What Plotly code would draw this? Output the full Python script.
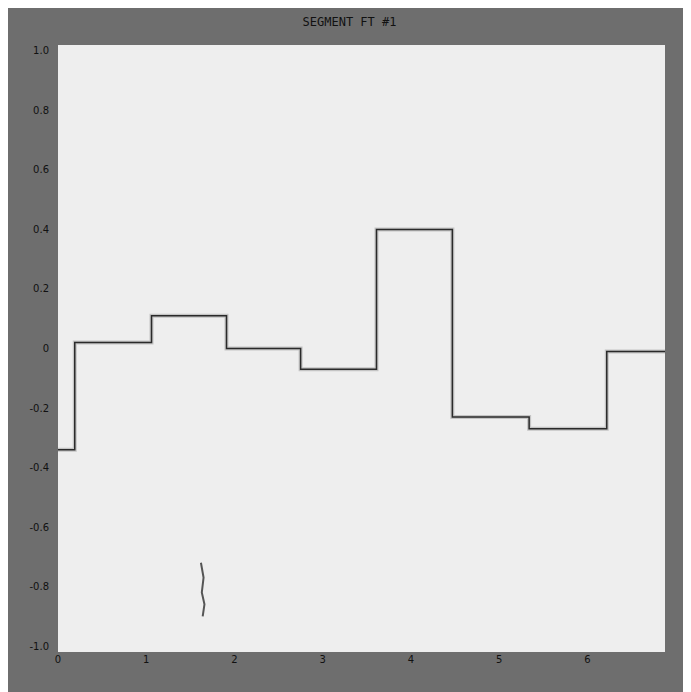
import plotly.graph_objects as go

# Step edges (x) and levels (y)
step_x = [0.0, 0.19, 1.06, 1.91, 2.75, 3.61, 4.47, 5.34, 6.22, 6.88]
step_y = [-0.34, 0.02, 0.11, 0.0, -0.07, 0.40, -0.23, -0.27, -0.01, -0.01]

# small stray mark in the lower left
mark_x = [1.62, 1.65, 1.63, 1.66, 1.64]
mark_y = [-0.72, -0.77, -0.82, -0.86, -0.90]

x_ticks = [0, 1, 2, 3, 4, 5, 6]
x_tick_labels = ["0", "1", "2", "3", "4", "5", "6"]
y_ticks = [-1.0, -0.8, -0.6, -0.4, -0.2, 0.0, 0.2, 0.4, 0.6, 0.8, 1.0]
y_tick_labels = ["-1.0", "-0.8", "-0.6", "-0.4", "-0.2", "0", "0.2", "0.4", "0.6", "0.8", "1.0"]

title_text = "SEGMENT FT #1"

fig = go.Figure()
fig.add_trace(go.Scatter(
    x=step_x, y=step_y, mode="lines", line=dict(color="#c4c4c4", width=4, shape="hv"),
    hoverinfo="skip", showlegend=False))
fig.add_trace(go.Scatter(
    x=step_x, y=step_y, mode="lines", line=dict(color="#2a2a2a", width=1.5, shape="hv"),
    showlegend=False))
fig.add_trace(go.Scatter(
    x=mark_x, y=mark_y, mode="lines", line=dict(color="#555555", width=2),
    showlegend=False))

fig.update_layout(
    width=683, height=684,
    margin=dict(l=50, r=26, t=37, b=40),
    paper_bgcolor="#6e6e6e",
    plot_bgcolor="#eeeeee",
    title=dict(text=title_text, x=0.5, xanchor="center", y=0.98, yanchor="middle",
               font=dict(family="DejaVu Sans Mono", size=12, color="#111111")),
    xaxis=dict(range=[0, 6.88], tickvals=x_ticks, ticktext=x_tick_labels,
               showgrid=False, zeroline=False, ticks="",
               tickfont=dict(family="DejaVu Sans", size=10, color="#111111")),
    yaxis=dict(range=[-1.02, 1.02], tickvals=y_ticks, ticktext=y_tick_labels,
               showgrid=False, zeroline=False, ticks="outside", ticklen=6,
               tickcolor="#6e6e6e",
               tickfont=dict(family="DejaVu Sans", size=10, color="#111111")),
)

fig.write_html("out.html")
